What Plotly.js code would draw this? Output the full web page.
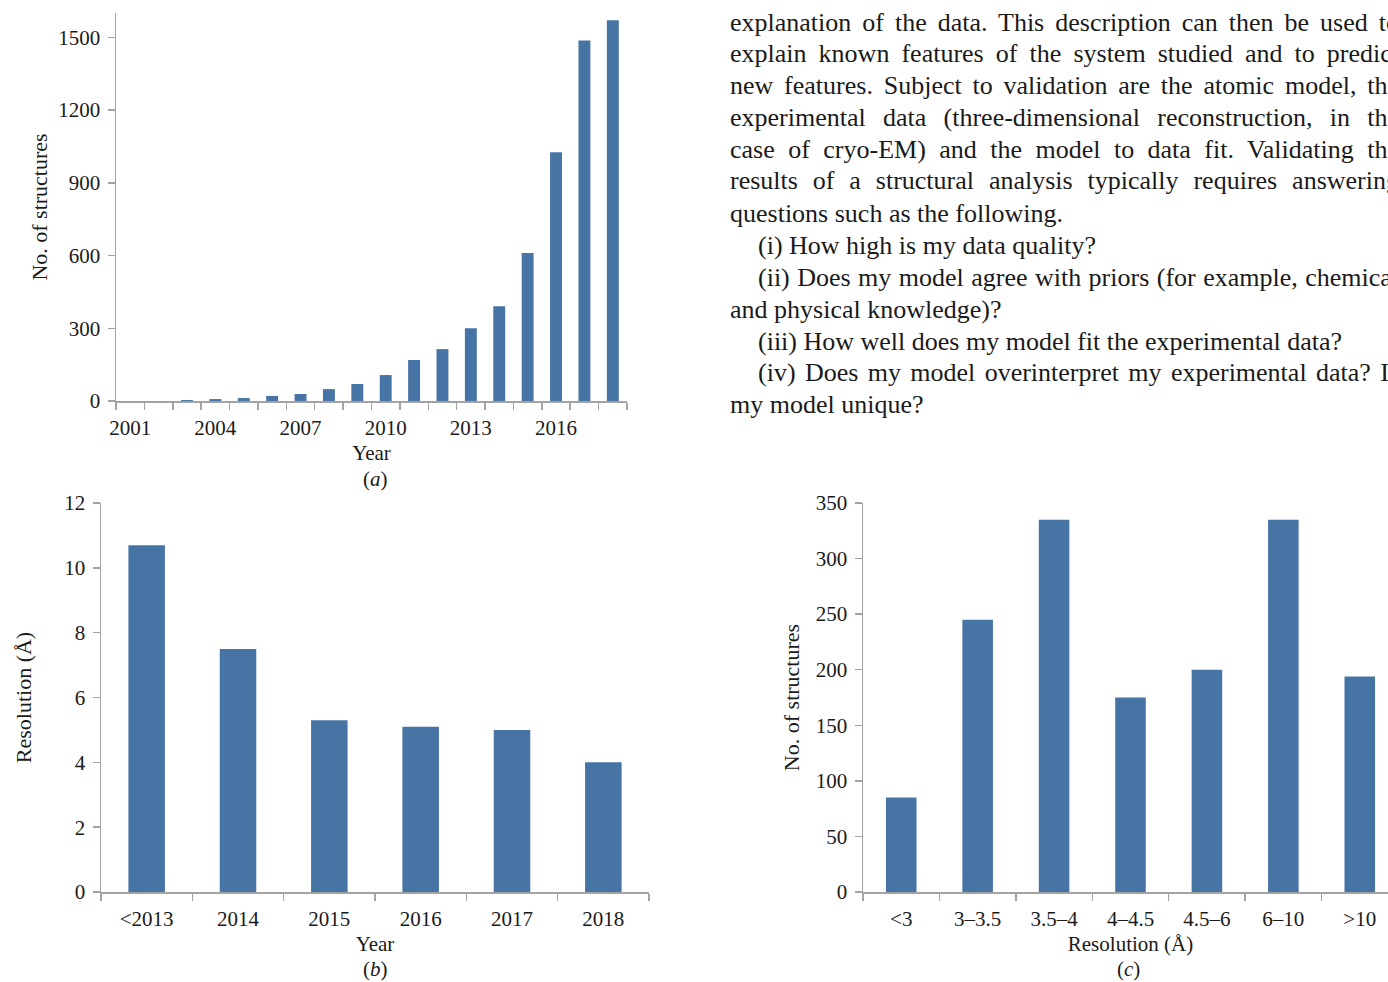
<!DOCTYPE html>
<html>
<head>
<meta charset="utf-8">
<script src="https://cdn.plot.ly/plotly-3.0.1.min.js"></script>
<style>
html, body { margin: 0; padding: 0; background: #ffffff; overflow: hidden; }
#chart { width: 1398px; height: 982px; }
</style>
</head>
<body>
<div id="chart"></div>
<script>
// ---------- data ----------
const yearsA = ['2001','2002','2003','2004','2005','2006','2007','2008','2009','2010','2011','2012','2013','2014','2015','2016','2017','2018'];
const structuresA = [0, 0, 4, 8, 12, 21, 29, 49, 70, 107, 169, 214, 300, 391, 610, 1026, 1487, 1570];
const yearTickLabelsA = ['2001','','','2004','','','2007','','','2010','','','2013','','','2016','',''];

const yearsB = ['<2013','2014','2015','2016','2017','2018'];
const resolutionB = [10.7, 7.5, 5.3, 5.1, 5.0, 4.0];

const binsC = ['<3','3–3.5','3.5–4','4–4.5','4.5–6','6–10','>10'];
const countsC = [85, 245, 335, 175, 200, 335, 194];

const paragraphLines = [
  'explanation of the data. This description can then be used to',
  'explain known features of the system studied and to predict',
  'new features. Subject to validation are the atomic model, the',
  'experimental data (three-dimensional reconstruction, in the',
  'case of cryo-EM) and the model to data fit. Validating the',
  'results of a structural analysis typically requires answering',
  'questions such as the following.',
  '(i) How high is my data quality?',
  '(ii) Does my model agree with priors (for example, chemical',
  'and physical knowledge)?',
  '(iii) How well does my model fit the experimental data?',
  '(iv) Does my model overinterpret my experimental data? Is',
  'my model unique?'
];
const paragraphIndent = [0,0,0,0,0,0,0,1,1,0,1,1,0];
const paragraphJustified = [1,1,1,1,1,1,0,0,1,0,0,1,0];

// ---------- styling ----------
const W = 1398, H = 982;
const FONT = '"Liberation Serif", "Times New Roman", Times, serif';
const TXT = '#1a1a1a';
const AX = '#a3a3a3';
const BAR = '#4674a4';
const px = v => v / W;
const py = v => 1 - v / H;

function axisBase(extra) {
  return Object.assign({
    showline: true, linecolor: AX, linewidth: 1.5,
    ticks: 'outside', tickcolor: AX, tickwidth: 1.5, ticklen: 7,
    showgrid: false, zeroline: false, fixedrange: true,
    tickfont: { family: FONT, size: 21, color: TXT }
  }, extra);
}
function xAxis(extra) {
  return axisBase(Object.assign({ tickangle: 0, ticklabelstandoff: 7 }, extra));
}
function yAxis(extra) {
  return axisBase(Object.assign({ ticklabelstandoff: 3 }, extra));
}

const data = [
  { type: 'bar', x: yearsA, y: structuresA, xaxis: 'x', yaxis: 'y',
    width: 0.42, marker: { color: BAR }, hoverinfo: 'x+y' },
  { type: 'bar', x: yearsB, y: resolutionB, xaxis: 'x2', yaxis: 'y2',
    width: 0.4, marker: { color: BAR }, hoverinfo: 'x+y' },
  { type: 'bar', x: binsC, y: countsC, xaxis: 'x3', yaxis: 'y3',
    width: 0.4, marker: { color: BAR }, hoverinfo: 'x+y' }
];

const annotations = [
  { text: '(<i>a</i>)', x: px(375), y: py(479) },
  { text: '(<i>b</i>)', x: px(375), y: py(969) },
  { text: '(<i>c</i>)', x: px(1128), y: py(969) }
].map(a => Object.assign({
  xref: 'paper', yref: 'paper', showarrow: false, xanchor: 'center', yanchor: 'middle',
  borderpad: 0, font: { family: FONT, size: 21, color: TXT }
}, a));

const lineY = [22, 54, 86, 117, 149, 181, 213, 245, 277, 309, 341, 372, 404];
paragraphLines.forEach((t, i) => {
  annotations.push({
    text: t, xref: 'paper', yref: 'paper',
    x: px(paragraphIndent[i] ? 757 : 729), y: py(lineY[i]),
    xanchor: 'left', yanchor: 'middle', align: 'left', showarrow: false,
    borderpad: 0,
    font: { family: FONT, size: 26, color: TXT }
  });
});

const layout = {
  width: W, height: H, autosize: false,
  margin: { l: 0, r: 0, t: 0, b: 0, pad: 0 },
  paper_bgcolor: '#ffffff', plot_bgcolor: '#ffffff',
  showlegend: false,
  font: { family: FONT, size: 21, color: TXT },
  xaxis: xAxis({
    domain: [px(116), px(627)], anchor: 'y', type: 'category',
    categoryorder: 'array', categoryarray: yearsA,
    tickmode: 'array', tickvals: yearsA, ticktext: yearTickLabelsA,
    tickson: 'boundaries', range: [-0.5, yearsA.length - 0.5],
    title: { text: 'Year', font: { family: FONT, size: 21, color: TXT }, standoff: 6 }
  }),
  yaxis: yAxis({
    domain: [py(401), py(13)], anchor: 'x', range: [0, 1600],
    tickmode: 'linear', tick0: 0, dtick: 300,
    title: { text: 'No. of structures', font: { family: FONT, size: 22, color: TXT }, standoff: 4 }
  }),
  xaxis2: xAxis({
    domain: [px(101), px(649)], anchor: 'y2', type: 'category',
    categoryorder: 'array', categoryarray: yearsB,
    tickson: 'boundaries', range: [-0.5, yearsB.length - 0.5],
    title: { text: 'Year', font: { family: FONT, size: 21, color: TXT }, standoff: 6 }
  }),
  yaxis2: yAxis({
    domain: [py(892), py(503)], anchor: 'x2', range: [0, 12],
    tickmode: 'linear', tick0: 0, dtick: 2,
    title: { text: 'Resolution (Å)', font: { family: FONT, size: 22, color: TXT }, standoff: 26 }
  }),
  xaxis3: xAxis({
    domain: [px(863), 1], anchor: 'y3', type: 'category',
    categoryorder: 'array', categoryarray: binsC,
    tickson: 'boundaries', range: [-0.5, binsC.length - 0.5],
    title: { text: 'Resolution (Å)', font: { family: FONT, size: 21, color: TXT }, standoff: 6 }
  }),
  yaxis3: yAxis({
    domain: [py(892), py(503)], anchor: 'x3', range: [0, 350],
    tickmode: 'linear', tick0: 0, dtick: 50,
    title: { text: 'No. of structures', font: { family: FONT, size: 22, color: TXT }, standoff: 10 }
  }),
  annotations: annotations
};

const gd = document.getElementById('chart');
Plotly.newPlot(gd, data, layout, { staticPlot: true, displayModeBar: false }).then(() => {
  // justify the paragraph lines that are set flush to the right column edge
  const RIGHT = 1398;
  gd.querySelectorAll('g.annotation text.annotation-text').forEach(t => {
    const idx = paragraphLines.indexOf(t.textContent);
    if (idx < 0 || !paragraphJustified[idx]) return;
    const left = paragraphIndent[idx] ? 757 : 729;
    const w = t.getComputedTextLength();
    const spaces = (paragraphLines[idx].match(/ /g) || []).length;
    if (spaces > 0) {
      const ws = (RIGHT - left - w) / spaces;
      t.style.wordSpacing = ws.toFixed(2) + 'px';
    }
  });
});
</script>
</body>
</html>
